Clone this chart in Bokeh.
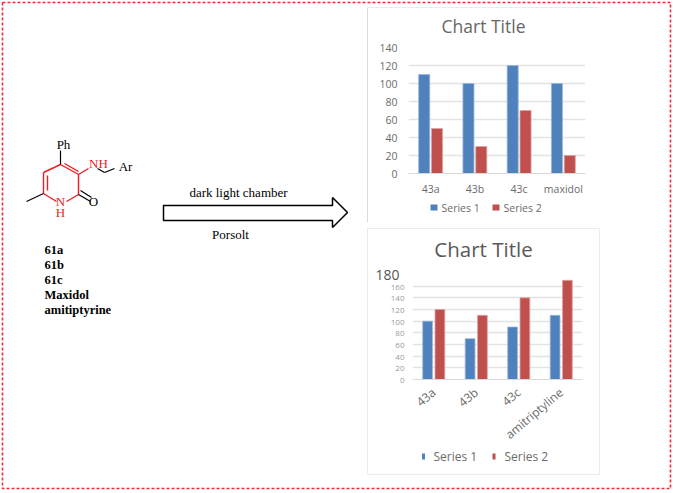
from math import pi, radians
from bokeh.plotting import figure
from bokeh.models import ColumnDataSource, Range1d, Label, FixedTicker
from bokeh.models import Column
from bokeh.transform import dodge
from bokeh.embed import file_html
from bokeh.resources import INLINE

# Chart data
cats_top = ["43a", "43b", "43c", "maxidol"]
top_series1 = [110, 100, 120, 100]
top_series2 = [50, 30, 70, 20]
top_ticks = [0, 20, 40, 60, 80, 100, 120, 140]

cats_bottom = ["43a", "43b", "43c", "amitriptyline"]
bottom_series1 = [100, 70, 90, 110]
bottom_series2 = [120, 110, 140, 170]
bottom_ticks = [0, 20, 40, 60, 80, 100, 120, 140, 160, 180]

series_names = ["Series 1", "Series 2"]
chart_title = "Chart Title"
compound_labels = ["61a", "61b", "61c", "Maxidol", "amitiptyrine"]

BLUE = "#4f81bd"
RED = "#c0504d"
GREY = "#6b6b6b"
FONT = "Open Sans"
SERIF = "Liberation Serif"

bg = figure(width=673, height=493, x_range=Range1d(0, 673), y_range=Range1d(493, 0),
            output_backend="svg", toolbar_location=None, min_border=0,
            outline_line_color=None, border_fill_color="white")
bg.axis.visible = False
bg.grid.visible = False

bg.line([2, 670, 670, 2, 2], [2, 2, 488, 488, 2], line_color="#e9303a", line_width=1.6, line_dash="3 2")

bg.line([367, 367], [7, 222], line_color="#dcdcdc", line_width=1)
bg.line([367, 599], [7, 7], line_color="#ececec", line_width=1)
bg.line([367, 367, 599, 599, 367], [228, 474, 474, 228, 228], line_color="#ebebeb", line_width=1)

red_x = [[60, 78], [64, 78], [78, 78], [78, 66], [56, 43], [43, 43], [47, 47], [43, 60], [78, 88]]
red_y = [[164, 174], [163, 171], [174, 194], [194, 201], [201, 193], [193, 172], [190, 175], [172, 164], [174, 168]]
bg.multi_line(red_x, red_y, line_color="#ee1c25", line_width=1.4)

black_x = [[60, 60], [43, 26], [78, 90], [80, 91], [104, 114], [97, 104]]
black_y = [[164, 150], [193, 201], [194, 201], [190, 197], [172, 168], [168, 172]]
bg.multi_line(black_x, black_y, line_color="black", line_width=1.2)


def txt(x, y, s, color="black", size="13px", style="normal", font=SERIF, align="left"):
    bg.add_layout(Label(x=x, y=y, text=s, text_color=color, text_font_size=size, text_font=font,
                        text_font_style=style, text_baseline="middle", text_align=align))


txt(63, 144, "Ph", align="center")
txt(98, 163, "NH", color="#ee1c25", align="center")
txt(125, 166, "Ar", align="center")
txt(60, 201, "N", color="#ee1c25", align="center")
txt(60, 212, "H", color="#ee1c25", align="center")
txt(93, 201, "O", align="center")

for i, lab in enumerate(compound_labels):
    txt(44, 249 + i * 15, lab, style="bold", size="12.5px")

arrow_x = [163, 332, 332, 347, 332, 332, 163]
arrow_y = [205, 205, 197, 212, 227, 220, 220]
bg.patch(arrow_x, arrow_y, fill_color="white", line_color="black", line_width=1.5)
txt(238, 192, "dark light chamber", align="center")
txt(230, 234, "Porsolt", align="center")

# chart titles
txt(483, 25, chart_title, color="#666666", size="17.5px", font=FONT, align="center")
txt(483, 248, chart_title, color="#595959", size="20.5px", font=FONT, align="center")

# legends
bg.rect([433.5, 495.5], [207, 207], width=7, height=6, fill_color=[BLUE, RED], line_color=None)
txt(441, 207, series_names[0], color=GREY, size="10.5px", font=FONT)
txt(503, 207, series_names[1], color=GREY, size="10.5px", font=FONT)
bg.rect([423, 493.5], [456, 456], width=3, height=6, fill_color=[BLUE, RED], line_color=None)
txt(433, 456, series_names[0], color=GREY, size="12px", font=FONT)
txt(504, 456, series_names[1], color=GREY, size="12px", font=FONT)

# oversized top tick of the lower chart
txt(399, 274, "180", color="#555555", size="14px", font=FONT, align="right")


def chart(cats, s1, s2, ticks, ymax, w, h, borders, tick_size, col_w, offs):
    l, r, t, b = borders
    p = figure(width=w, height=h, x_range=cats, y_range=Range1d(0, ymax),
               output_backend="svg", toolbar_location=None,
               min_border_left=l, min_border_right=r, min_border_top=t, min_border_bottom=b,
               background_fill_alpha=0, border_fill_alpha=0, outline_line_color=None)
    src = ColumnDataSource(dict(cat=cats, s1=s1, s2=s2))
    p.vbar(x=dodge("cat", -offs, range=p.x_range), top="s1", width=col_w, source=src,
           fill_color=BLUE, line_color="#9db8d8", line_width=0.8)
    p.vbar(x=dodge("cat", offs, range=p.x_range), top="s2", width=col_w, source=src,
           fill_color=RED, line_color="#dba4a2", line_width=0.8)
    p.yaxis.ticker = FixedTicker(ticks=ticks)
    p.yaxis.axis_line_color = None
    p.yaxis.major_tick_line_color = None
    p.yaxis.minor_tick_line_color = None
    p.yaxis.major_label_text_font = FONT
    p.yaxis.major_label_text_font_size = tick_size
    p.yaxis.major_label_text_color = GREY
    p.xaxis.major_tick_line_color = None
    p.xaxis.minor_tick_line_color = None
    p.xaxis.axis_line_color = "#d9d9d9"
    p.xaxis.major_label_text_font = FONT
    p.xaxis.major_label_text_font_size = tick_size
    p.xaxis.major_label_text_color = GREY
    p.xaxis.major_label_standoff = 2
    p.xgrid.visible = False
    p.ygrid.ticker = FixedTicker(ticks=ticks)
    p.ygrid.grid_line_color = "#e3e3e3"
    p.ygrid.grid_line_width = 1.3
    p.x_range.range_padding = 0
    p.x_range.factor_padding = 0
    return p


c1 = chart(cats_top, top_series1, top_series2, top_ticks, 140, 233, 215,
           (41, 15, 40, 49), "10.5px", 0.25, 0.145)
c2 = chart(cats_bottom, bottom_series1, bottom_series2, bottom_ticks, 180, 234, 246,
           (46, 18, 46, 95), "12px", 0.23, 0.145)
c2.xaxis.major_label_orientation = radians(40)
c2.xaxis.major_label_standoff = 5
c2.yaxis.major_label_text_font_size = "8px"
c2.yaxis.major_label_text_color = "#9a9a9a"
c2.yaxis.major_label_standoff = 2
c2.yaxis.major_label_overrides = {180: " "}


def place(fig, left, top, w, h):
    return Column(children=[fig], width=w, height=h,
                  styles={"position": "absolute", "left": f"{left}px", "top": f"{top}px"})


root = Column(children=[Column(children=[bg], width=673, height=493),
                        place(c1, 367, 7, 233, 215), place(c2, 366, 228, 234, 246)],
              width=673, height=493, styles={"position": "relative"})
open("out.html", "w").write(file_html(root, INLINE))
